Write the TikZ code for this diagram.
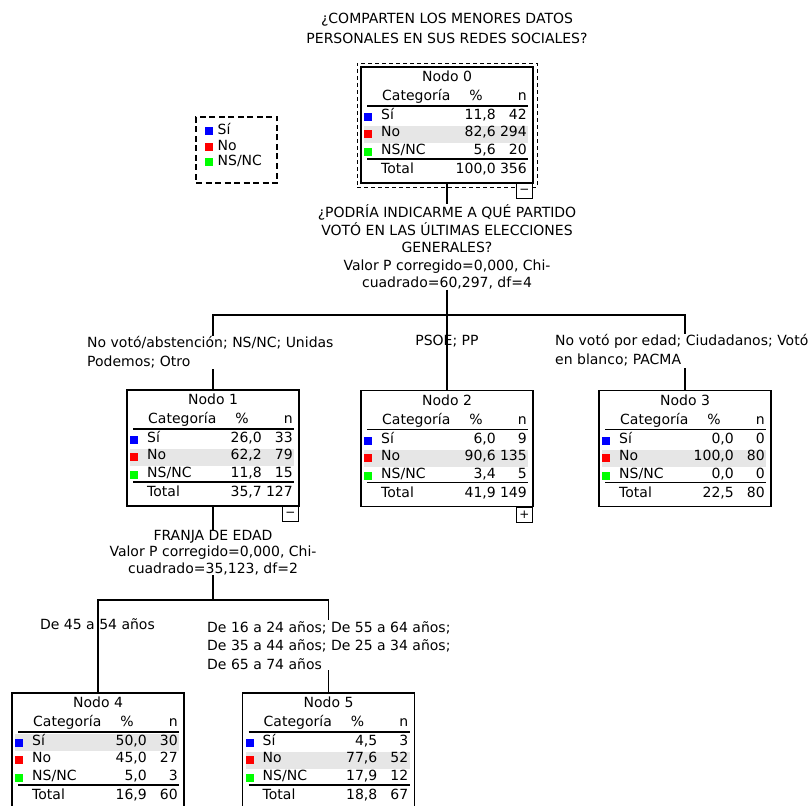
\documentclass[tikz,border=0pt]{standalone}
\usepackage{fontspec}
\setmainfont{DejaVu Sans}
\usetikzlibrary{positioning,fit,calc}
\definecolor{catblue}{RGB}{0,0,255}
\definecolor{catred}{RGB}{255,0,0}
\definecolor{catgreen}{RGB}{0,255,0}
\definecolor{rowgrey}{RGB}{230,230,230}

% box of one tree node: [style] name, centre, number, top of the grey row
\newcommand{\nodoarbol}[5][]{%
  \node[caja,#1] (#2) at #3 {};
  \begin{scope}[shift={(#2.north west)}]
    \fill[rowgrey] (3,#5) rectangle (167,{#5+17});
    \node[txt,anchor=mid] at (86,12) {Nodo #4};
    \node[txt,anchor=mid west] at (21,31) {Categoría};
    \node[txt,anchor=mid] at (115,31) {\%};
    \node[txt,anchor=mid east] at (166,31) {n};
    \draw[regla] (6,39) -- (167,39);
    \fill[catblue] (3,46) rectangle (11,54);
    \fill[catred] (3,63) rectangle (11,71);
    \fill[catgreen] (3,81) rectangle (11,89);
    \node[txt,anchor=mid west] at (20,50) {Sí};
    \node[txt,anchor=mid west] at (20,67) {No};
    \node[txt,anchor=mid west] at (20,85) {NS/NC};
    \draw[regla] (6,92) -- (167,92);
    \node[txt,anchor=mid west] at (20,104) {Total};
  \end{scope}}

% percentages and counts: name, then % and n for Si, No, NS/NC, Total
\newcommand{\valores}[9]{%
  \begin{scope}[shift={(#1.north west)}]
    \node[txt,anchor=mid east] at (135,50) {#2};
    \node[txt,anchor=mid east] at (166,50) {#3};
    \node[txt,anchor=mid east] at (135,67) {#4};
    \node[txt,anchor=mid east] at (166,67) {#5};
    \node[txt,anchor=mid east] at (135,85) {#6};
    \node[txt,anchor=mid east] at (166,85) {#7};
    \node[txt,anchor=mid east] at (135,104) {#8};
    \node[txt,anchor=mid east] at (166,104) {#9};
  \end{scope}}

\begin{document}
\begin{tikzpicture}[x=1pt,y=-1pt,
  font=\fontsize{14}{17}\selectfont,
  txt/.style={inner sep=0pt},
  caja/.style={draw,line width=1.2pt,minimum width=172pt,minimum height=116pt,inner sep=0pt,outer sep=0pt},
  raiz/.style={line width=2.6pt},
  seleccion/.style={draw,dash pattern=on 4pt off 3pt,line width=0.9pt,inner sep=4pt},
  leyenda/.style={draw,dash pattern=on 6pt off 3.5pt,line width=1.1pt,minimum width=81pt,minimum height=66pt,inner sep=0pt},
  signo/.style={draw,fill=white,line width=1pt,minimum width=16pt,minimum height=15pt,inner sep=0pt,font=\fontsize{12}{12}\selectfont},
  rama/.style={line width=1.2pt},
  regla/.style={line width=1.3pt},
  etiqueta/.style={inner sep=1pt,align=left},
  opaca/.style={etiqueta,fill=white}
]
\useasboundingbox (0,0) rectangle (810,805);

\node[txt,align=center,font=\fontsize{14}{20}\selectfont] (pregunta) at (447,28)
  {¿COMPARTEN LOS MENORES DATOS\\PERSONALES EN SUS REDES SOCIALES?};

% legend
\node[leyenda] (leyenda) at (236.5,150) {};
\begin{scope}[shift={(leyenda.north west)}]
  \fill[catblue] (10,11) rectangle (18,19);
  \fill[catred] (10,27) rectangle (18,35);
  \fill[catgreen] (10,42) rectangle (18,50);
  \node[txt,anchor=mid west] at (22,15) {Sí};
  \node[txt,anchor=mid west] at (22,31) {No};
  \node[txt,anchor=mid west] at (22,46) {NS/NC};
\end{scope}

% nodes
\nodoarbol[raiz]{n0}{(447,125)}{0}{59}
\valores{n0}{11,8}{42}{82,6}{294}{5,6}{20}{100,0}{356}
\node[seleccion,fit=(n0)] (sel0) {};
\nodoarbol{n1}{(213,448)}{1}{59}
\valores{n1}{26,0}{33}{62,2}{79}{11,8}{15}{35,7}{127}
\nodoarbol{n2}{(447,448.5)}{2}{59}
\valores{n2}{6,0}{9}{90,6}{135}{3,4}{5}{41,9}{149}
\nodoarbol{n3}{(685,448.5)}{3}{59}
\valores{n3}{0,0}{0}{100,0}{80}{0,0}{0}{22,5}{80}
\nodoarbol{n4}{(98,751)}{4}{41}
\valores{n4}{50,0}{30}{45,0}{27}{5,0}{3}{16,9}{60}
\nodoarbol{n5}{(328.5,751)}{5}{59}
\valores{n5}{4,5}{3}{77,6}{52}{17,9}{12}{18,8}{67}

% first split
\node[txt,align=center,font=\fontsize{14}{17.5}\selectfont] (split0) at (447,247)
  {¿PODRÍA INDICARME A QUÉ PARTIDO\\VOTÓ EN LAS ÚLTIMAS ELECCIONES\\GENERALES?\\Valor P corregido=0,000, Chi-\\cuadrado=60,297, df=4};
\coordinate (bar0) at (447,315);
\draw[rama] (n0.south) -- (split0.north);
\draw[rama] (split0.south) -- (bar0);
\draw[rama] (n1.north) |- (bar0) -| (n3.north);
\draw[rama] (bar0) -- (n2.north);
\node[signo,anchor=north east] (t0) at (n0.south east) {−};

\node[opaca,anchor=north west,font=\fontsize{14}{19}\selectfont] (lbl1) at (86,335.3)
  {No votó/abstención; NS/NC; Unidas\\Podemos; Otro};
\node[etiqueta,anchor=mid] (lbl2) at (447,343) {PSOE; PP};
\node[opaca,anchor=north west,font=\fontsize{14}{19}\selectfont] (lbl3) at (554,333.5)
  {No votó por edad; Ciudadanos; Votó\\en blanco; PACMA};

% second split
\node[txt,align=center,font=\fontsize{14}{16.5}\selectfont] (split1) at (213,552.5)
  {FRANJA DE EDAD\\Valor P corregido=0,000, Chi-\\cuadrado=35,123, df=2};
\coordinate (bar1) at (213,600);
\draw[rama] (n1.south) -- (split1.north);
\draw[rama] (split1.south) -- (bar1);
\draw[rama] (n4.north) |- (bar1) -| (n5.north);
\node[signo,anchor=north east] (t1) at (n1.south east) {−};
\node[signo,anchor=north east] (t2) at (n2.south east) {+};

\node[etiqueta,anchor=mid] (lbl4) at (97.5,627) {De 45 a 54 años};
\node[opaca,anchor=north west,font=\fontsize{14}{18.5}\selectfont] (lbl5) at (206,620)
  {De 16 a 24 años; De 55 a 64 años;\\De 35 a 44 años; De 25 a 34 años;\\De 65 a 74 años};
\end{tikzpicture}
\end{document}
